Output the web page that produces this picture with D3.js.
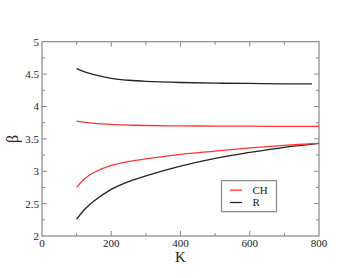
<!DOCTYPE html>
<html>
<head>
<meta charset="utf-8">
<script src="https://cdn.jsdelivr.net/npm/d3@7"></script>
<style>
body { margin:0; background:#fff; }
text { font-family:"Liberation Serif","DejaVu Serif",serif; fill:#222; }
</style>
</head>
<body>
<svg id="chart"></svg>
<script>
// K values for each curve
var kLower = [100,125,150,200,250,300,400,500,600,700,800];
var kUpper = [100,125,150,200,250,300,400,500,600,700,800];
var kUpperR = [100,125,150,200,250,300,400,500,600,700,780];

// beta values
var chLow  = [2.75,2.89,2.98,3.09,3.15,3.19,3.26,3.31,3.36,3.40,3.43];
var rLow   = [2.26,2.42,2.54,2.72,2.84,2.93,3.08,3.20,3.29,3.37,3.43];
var chHigh = [3.775,3.755,3.74,3.722,3.712,3.706,3.70,3.697,3.695,3.693,3.692];
var rHigh  = [4.585,4.53,4.49,4.435,4.405,4.388,4.37,4.36,4.355,4.35,4.348];

var xTicks = [0,200,400,600,800];
var yTicks = [2,2.5,3,3.5,4,4.5,5];
var legendNames = ["CH","R"];
var legendColors = ["#ff3333","#222222"];

var screen = {width:359, height:278};
var margins = {top:41.7, left:42, right:40, bottom:42};
var graph = {
    width:screen.width-margins.left-margins.right,
    height:screen.height-margins.top-margins.bottom
};

var svg = d3.select("#chart")
    .attr("width",screen.width)
    .attr("height",screen.height);

var xScale = d3.scaleLinear().domain([0,800]).range([margins.left,margins.left+graph.width]);
var yScale = d3.scaleLinear().domain([2,5]).range([margins.top+graph.height,margins.top]);

var axisColor = "#888";

// frame
svg.append("rect")
    .attr("x",xScale(0)).attr("y",yScale(5))
    .attr("width",xScale(800)-xScale(0))
    .attr("height",yScale(2)-yScale(5))
    .attr("fill","none").attr("stroke",axisColor).attr("stroke-width",1.2);

// ticks: inward, major + minor
var drawTicks = function(){
    var g = svg.append("g").attr("stroke",axisColor).attr("stroke-width",1);
    d3.range(0,801,100).forEach(function(k){
        var len = (k%200==0) ? 5 : 3;
        if(k==0 || k==800) return;
        g.append("line").attr("x1",xScale(k)).attr("x2",xScale(k))
            .attr("y1",yScale(2)).attr("y2",yScale(2)-len);
        g.append("line").attr("x1",xScale(k)).attr("x2",xScale(k))
            .attr("y1",yScale(5)).attr("y2",yScale(5)+len);
    });
    d3.range(2,5.01,0.25).forEach(function(b){
        var len = (Math.abs(b*2-Math.round(b*2))<0.01) ? 5 : 3;
        if(b==2 || b==5) return;
        g.append("line").attr("y1",yScale(b)).attr("y2",yScale(b))
            .attr("x1",xScale(0)).attr("x2",xScale(0)+len);
        g.append("line").attr("y1",yScale(b)).attr("y2",yScale(b))
            .attr("x1",xScale(800)).attr("x2",xScale(800)-len);
    });
}
drawTicks();

// tick labels
svg.selectAll(".xlab").data(xTicks).enter().append("text")
    .attr("x",function(d){return xScale(d);})
    .attr("y",yScale(2)+10.5)
    .attr("text-anchor","middle")
    .attr("font-size",11)
    .text(function(d){return d;});

svg.selectAll(".ylab").data(yTicks).enter().append("text")
    .attr("x",xScale(0)-3)
    .attr("y",function(d){return yScale(d)+4;})
    .attr("text-anchor","end")
    .attr("font-size",11)
    .text(function(d){return d;});

// axis titles
svg.append("text")
    .attr("x",(xScale(0)+xScale(800))/2)
    .attr("y",262)
    .attr("text-anchor","middle")
    .attr("font-size",15)
    .text("K");

svg.append("g")
    .attr("transform","translate(18,"+((yScale(2)+yScale(5))/2)+")")
    .append("text")
    .attr("transform","rotate(-90)")
    .attr("text-anchor","middle")
    .attr("font-size",16)
    .text("β");

// curves
var line = d3.line()
    .x(function(d){return xScale(d[0]);})
    .y(function(d){return yScale(d[1]);})
    .curve(d3.curveCatmullRom.alpha(0.5));

var series = [
    {k:kUpperR, b:rHigh, color:legendColors[1]},
    {k:kUpper,  b:chHigh, color:legendColors[0]},
    {k:kLower,  b:rLow,  color:legendColors[1]},
    {k:kLower,  b:chLow, color:legendColors[0]}
];

svg.selectAll(".curve").data(series).enter().append("path")
    .attr("d",function(s){return line(d3.zip(s.k,s.b));})
    .attr("fill","none")
    .attr("stroke",function(s){return s.color;})
    .attr("stroke-width",1.3);

// legend
var legend = svg.append("g").attr("transform","translate(221.5,180.7)");
legend.append("rect")
    .attr("width",55).attr("height",31)
    .attr("fill","#fff").attr("stroke",axisColor).attr("stroke-width",1.2);
legendNames.forEach(function(name,i){
    legend.append("line")
        .attr("x1",8.5).attr("x2",20.5)
        .attr("y1",9.5+i*12.3).attr("y2",9.5+i*12.3)
        .attr("stroke",legendColors[i]).attr("stroke-width",1.3);
    legend.append("text")
        .attr("x",31).attr("y",13+i*12.3)
        .attr("font-size",11)
        .text(name);
});
</script>
</body>
</html>
